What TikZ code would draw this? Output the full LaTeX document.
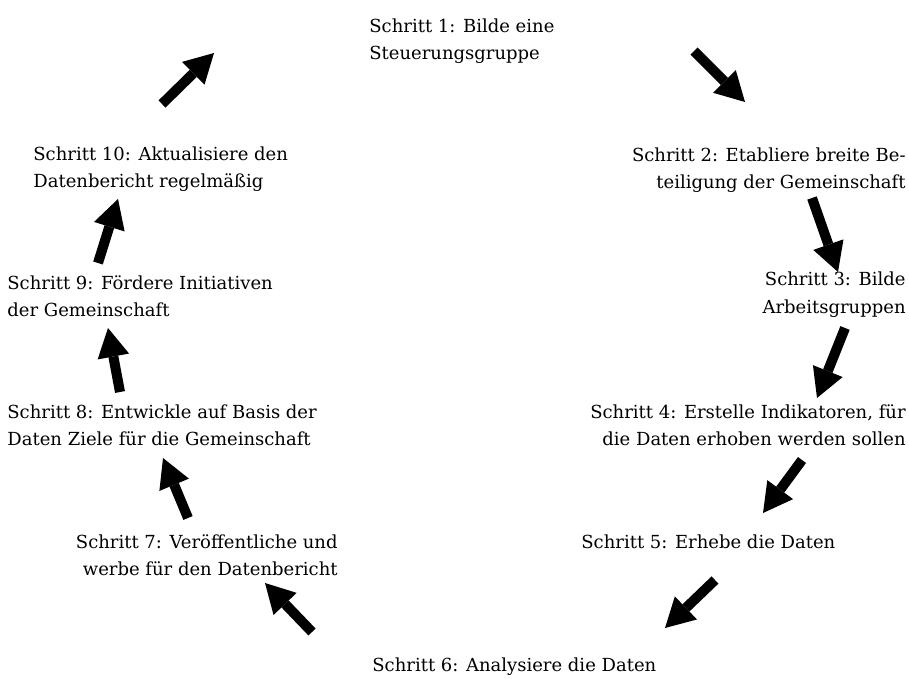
\documentclass[tikz,border=0pt]{standalone}
\usepackage{fontspec}
\setmainfont{DejaVu Serif}
\usepackage{tikz}
\usetikzlibrary{arrows.meta}

\begin{document}
\begin{tikzpicture}[
  x=0.5pt, y=-0.5pt,
  font=\fontsize{9}{13.5}\selectfont,
  schritt/.style={inner sep=0pt},
  links/.style={schritt, anchor=base west, align=left},
  rechts/.style={schritt, anchor=base east, align=right},
  pfeil/.style={line width=5pt, -{Triangle[length=14.5pt, width=16pt, line width=0pt]}}]
\useasboundingbox (0,0) rectangle (909,679);
% ---------------- steps, clockwise from the top (base = last line)
\node[links] (s1) at (369,60) {Schritt 1: Bilde eine\\Steuerungsgruppe};
\node[rechts] (s2) at (906,189) {Schritt 2: Etabliere breite Be-\\teiligung der Gemeinschaft};
\node[rechts] (s3) at (906,313) {Schritt 3: Bilde\\Arbeitsgruppen};
\node[rechts] (s4) at (906,445) {Schritt 4: Erstelle Indikatoren, für\\die Daten erhoben werden sollen};
\node[links] (s5) at (581,548) {Schritt 5: Erhebe die Daten};
\node[links] (s6) at (372,671) {Schritt 6: Analysiere die Daten};
\node[rechts] (s7) at (338,575) {Schritt 7: Veröffentliche und\\werbe für den Datenbericht};
\node[links] (s8) at (7,445) {Schritt 8: Entwickle auf Basis der\\Daten Ziele für die Gemeinschaft};
\node[links] (s9) at (7,316) {Schritt 9: Fördere Initiativen\\der Gemeinschaft};
\node[links] (s10) at (33,188) {Schritt 10: Aktualisiere den\\Datenbericht regelmäßig};
% ---------------- arrows (tail a, tip b)
\coordinate (a1) at (694,51);  \coordinate (b1) at (745,102);
\coordinate (a2) at (812,198); \coordinate (b2) at (838,272);
\coordinate (a3) at (845,328); \coordinate (b3) at (817,398);
\coordinate (a4) at (802,460); \coordinate (b4) at (763,513);
\coordinate (a5) at (715,580); \coordinate (b5) at (665,628);
\coordinate (a6) at (312,632); \coordinate (b6) at (265,583);
\coordinate (a7) at (188,518); \coordinate (b7) at (163,458);
\coordinate (a8) at (120,392); \coordinate (b8) at (108,328);
\coordinate (a9) at (98,263);  \coordinate (b9) at (118,199);
\coordinate (a10) at (162,104); \coordinate (b10) at (214,53);
\foreach \i in {1,...,10} \draw[pfeil] (a\i) -- (b\i);
\end{tikzpicture}
\end{document}
